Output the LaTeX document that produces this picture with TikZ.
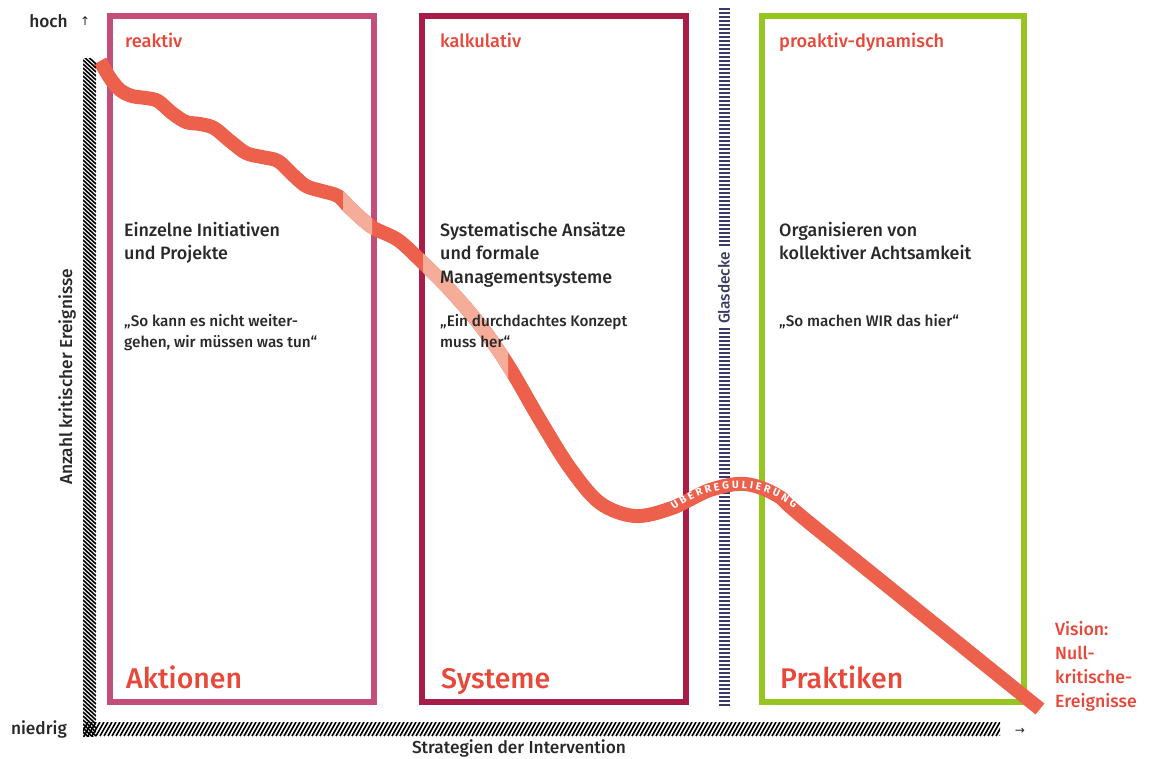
\documentclass[tikz,border=0pt]{standalone}
\usepackage{fontspec}
\setmainfont{Fira Sans}[UprightFont={* Medium}, BoldFont={* Bold}]
\newfontfamily\arrowfont{DejaVu Sans}
\usetikzlibrary{positioning, decorations.text}
\definecolor{reaktivpink}{RGB}{196, 78, 122}
\definecolor{kalkulred}{RGB}{168, 28, 72}
\definecolor{proaktivgreen}{RGB}{150, 196, 32}
\definecolor{curvered}{RGB}{236, 96, 76}
\definecolor{curvelight}{RGB}{245, 172, 152}
\definecolor{labelred}{RGB}{232, 72, 58}
\definecolor{glasblue}{RGB}{58, 58, 98}
\definecolor{textgray}{RGB}{40, 40, 40}

% path of the critical events curve
\newcommand{\eventcurve}{plot[smooth, tension=0.55] coordinates {
  (100,61) (110,78) (120,90) (132,96) (146,98) (158,101) (172,113)
  (186,122) (200,124) (214,128) (230,141) (246,153) (262,157)
  (278,161) (292,174) (306,186) (322,191) (338,196) (350,208)
  (372,227) (398,240) (422,262) (450,290) (480,325) (508,365)
  (540,420) (570,468) (600,503) (635,516) (672,508) (710,490)
  (745,484) (778,496) (812,525) (1040,709)}}

\begin{document}
\begin{tikzpicture}[
    x=1pt, y=-1pt,
    phase/.style={
      draw, line width=6pt, minimum width=264pt, minimum height=686pt,
      inner sep=0pt, outer sep=0pt, anchor=north west
    },
    phasetag/.style={text=labelred, font=\fontsize{18.2}{20}\selectfont, inner sep=0pt},
    phasetitle/.style={text=labelred, font=\fontsize{28.5}{34}\selectfont, inner sep=0pt},
    phasetext/.style={text=textgray, font=\fontsize{17.9}{23.5}\selectfont,
      align=left, inner sep=0pt},
    phasequote/.style={text=textgray, font=\fontsize{15.3}{21}\selectfont,
      align=left, inner sep=0pt},
    axislabel/.style={text=textgray, font=\fontsize{17.3}{18}\selectfont, inner sep=0pt},
    hatch/.style={line width=1.6pt, black},
    risk/.style={draw=curvered, line width=14pt},
]
    \useasboundingbox (0,0) rectangle (1149,758);

    % Phases
    \node[phase, draw=reaktivpink] (reaktivbox) at (110,16) {};
    \node[phase, draw=kalkulred] (kalkulbox) at (422,16) {};
    \node[phase, draw=proaktivgreen, minimum width=262pt] (proaktivbox) at (762,16) {};

    % Glass ceiling
    \node[axislabel, text=glasblue, font=\fontsize{15.5}{16}\selectfont, rotate=90, inner sep=4pt]
      (glas) at (724,288) {Glasdecke};
    \coordinate (glastop) at (724,8);
    \coordinate (glasbottom) at (724,706);
    \draw[glasblue, line width=11pt, dash pattern=on 2pt off 2pt] (glastop) -- (glas.east);
    \draw[glasblue, line width=11pt, dash pattern=on 2pt off 2pt] (glas.west) -- (glasbottom);

    % Curve
    \draw[risk] \eventcurve;
    \begin{scope}
      \clip (343,0) rectangle (372,758);
      \draw[risk, draw=curvelight] \eventcurve;
    \end{scope}
    \begin{scope}
      \clip (423,0) rectangle (508,758);
      \draw[risk, draw=curvelight] \eventcurve;
    \end{scope}
    \path[decorate, decoration={text along path, text align=fit to path,
        text={|\color{white}\fontsize{10.5}{10.5}\bfseries\selectfont|ÜBERREGULIERUNG}}]
      (674,510) .. controls (710,485) and (755,478) .. (794,508);

    % Texts
    \node[phasetag, below right=17pt and 15pt of reaktivbox.north west] (reaktivtag) {reaktiv};
    \node[phasetag, below right=17pt and 18pt of kalkulbox.north west] (kalkultag) {kalkulativ};
    \node[phasetag, below right=17pt and 17pt of proaktivbox.north west] (proaktivtag) {proaktiv-dynamisch};

    \node[phasetext, below right=206pt and 14pt of reaktivbox.north west] (reaktivtext)
      {Einzelne Initiativen\\und Projekte};
    \node[phasetext, below right=206pt and 18pt of kalkulbox.north west] (kalkultext)
      {Systematische Ansätze\\und formale\\Managementsysteme};
    \node[phasetext, below right=206pt and 17pt of proaktivbox.north west] (proaktivtext)
      {Organisieren von\\kollektiver Achtsamkeit};

    \node[phasequote, below right=298pt and 14pt of reaktivbox.north west] (reaktivquote)
      {„So kann es nicht weiter-\\gehen, wir müssen was tun“};
    \node[phasequote, below right=298pt and 18pt of kalkulbox.north west] (kalkulquote)
      {„Ein durchdachtes Konzept\\muss her“};
    \node[phasequote, below right=298pt and 17pt of proaktivbox.north west] (proaktivquote)
      {„So machen WIR das hier“};

    \node[phasetitle, above right=14pt and 16pt of reaktivbox.south west, anchor=base west] (aktionen) {Aktionen};
    \node[phasetitle, above right=14pt and 19pt of kalkulbox.south west, anchor=base west] (systeme) {Systeme};
    \node[phasetitle, above right=14pt and 18pt of proaktivbox.south west, anchor=base west] (praktiken) {Praktiken};

    \node[phasetag, anchor=north west, align=left, font=\fontsize{17.7}{24}\selectfont]
      (vision) at (1055,621) {Vision:\\Null-\\kritische-\\Ereignisse};

    % Axes
    \begin{scope}
      \clip (83,58) rectangle (96,736);
      \foreach \y in {52,56,...,736}
        \draw[hatch] (83,\y) -- (96,\y+12);
    \end{scope}
    \begin{scope}
      \clip (83,722) rectangle (1000,736);
      \foreach \x in {80,84,...,1000}
        \draw[hatch] (\x,736) -- (\x+8,722);
    \end{scope}

    \node[axislabel, anchor=east] (hoch) at (68,21) {hoch};
    \node[axislabel, font=\arrowfont\fontsize{12}{14}\selectfont, right=12pt of hoch] (hocharrow) {↑};
    \node[axislabel, anchor=east] (niedrig) at (67,729) {niedrig};
    \node[axislabel, font=\arrowfont\fontsize{12}{14}\selectfont] (rightarrow) at (1020,731) {→};
    \node[axislabel] (xlabel) at (519,748) {Strategien der Intervention};
    \node[axislabel, rotate=90] (ylabel) at (67,377) {Anzahl kritischer Ereignisse};
\end{tikzpicture}
\end{document}
